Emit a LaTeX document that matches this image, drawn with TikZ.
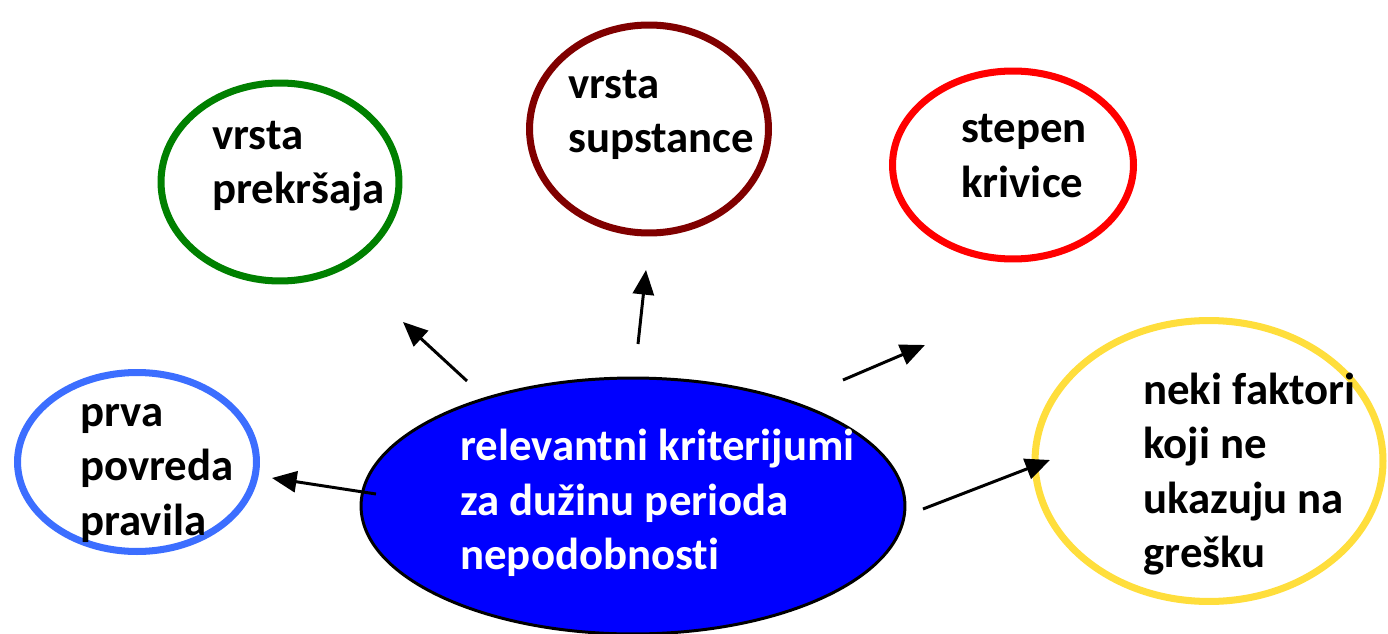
\documentclass[tikz,border=0pt]{standalone}
\usepackage{fontspec}
\setmainfont{Carlito}[RawFeature={-liga;-clig;-calt;-dlig}]
\usepackage{tikz}
\usepackage{xcolor}
\usetikzlibrary{shapes.geometric}
\usetikzlibrary{arrows.meta}

\definecolor{krugzelen}{RGB}{0,128,0}
\definecolor{krugbordo}{RGB}{128,0,0}
\definecolor{krugcrven}{RGB}{255,0,0}
\definecolor{krugplav}{RGB}{60,110,255}
\definecolor{krugzut}{RGB}{255,222,60}
\definecolor{centar}{RGB}{0,0,255}

\begin{document}
\begin{tikzpicture}[x=0.02cm,y=0.02cm,
  krug/.style={ellipse,draw,line width=4pt,inner sep=0pt},
  tekst/.style={anchor=west,align=left,inner sep=0pt,font=\fontsize{25.5}{31}\selectfont\bfseries},
  strelica/.style={line width=1.7pt,-{Triangle[length=14pt,width=12pt]}}]
\useasboundingbox (0,0) rectangle (1388,633);

\node[ellipse,draw,line width=1.7pt,fill=centar,minimum width=10.88cm,minimum height=5.12cm] (kriterij) at (633,127) {};
\node[tekst,text=white] (kriterijtxt) at (460,130) {relevantni kriterijumi\\za dužinu perioda\\nepodobnosti};

\node[krug,draw=krugzelen,minimum width=4.76cm,minimum height=3.96cm] (prekrsaj) at (280,451) {};
\node[tekst] (prekrsajtxt) at (212,467) {vrsta\\prekršaja};

\node[krug,draw=krugbordo,minimum width=4.78cm,minimum height=4.16cm] (supstanca) at (649,504) {};
\node[tekst] (supstancatxt) at (568,518) {vrsta\\supstance};

\node[krug,draw=krugcrven,minimum width=4.82cm,minimum height=3.76cm] (krivica) at (1013,468) {};
\node[tekst] (krivicatxt) at (961,477) {stepen\\krivice};

\node[krug,draw=krugplav,minimum width=4.78cm,minimum height=3.58cm] (povreda) at (137,171) {};
\node[tekst] (povredatxt) at (80,160) {prva\\povreda\\pravila};

\node[krug,draw=krugzut,minimum width=6.96cm,minimum height=5.62cm] (faktori) at (1209,172) {};
\node[tekst] (faktoritxt) at (1143,159) {neki faktori\\koji ne\\ukazuju na\\grešku};

\coordinate (s1a) at (467,252); \coordinate (s1b) at (403,311);
\coordinate (s2a) at (638,289); \coordinate (s2b) at (646,363);
\coordinate (s3a) at (843,253); \coordinate (s3b) at (925,288);
\coordinate (s4a) at (376,139); \coordinate (s4b) at (272,155);
\coordinate (s5a) at (923,124); \coordinate (s5b) at (1050,173);

\draw[strelica] (s1a) -- (s1b);
\draw[strelica] (s2a) -- (s2b);
\draw[strelica] (s3a) -- (s3b);
\draw[strelica] (s4a) -- (s4b);
\draw[strelica] (s5a) -- (s5b);

\end{tikzpicture}
\end{document}
